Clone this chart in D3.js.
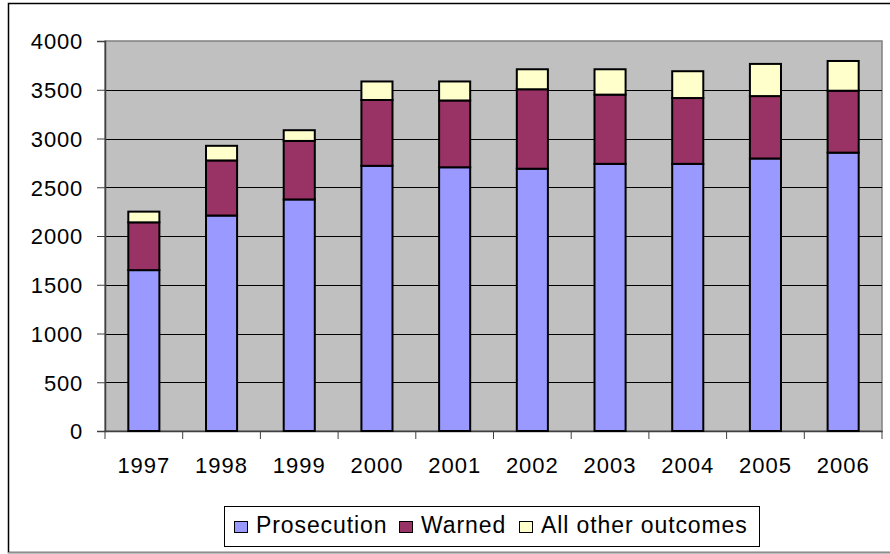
<html lang="en">
<head>
    <meta charset="UTF-8">
    <title>Outcomes 1997-2006</title>
    <style>
        body { margin: 0; background: #ffffff; }
        text { font-family: Arial, "Liberation Sans", sans-serif; fill: #000; }
    </style>
</head>
<body>
    <script src="https://d3js.org/d3.v7.min.js"></script>
    <div id="my_dataviz"></div>
    <script>
        // Data
        var years = ["1997", "1998", "1999", "2000", "2001", "2002", "2003", "2004", "2005", "2006"]
        var prosecution = [1650, 2210, 2375, 2720, 2705, 2690, 2740, 2740, 2795, 2855]
        var warned = [490, 565, 600, 675, 685, 815, 710, 675, 640, 635]
        var otherOutcomes = [110, 150, 110, 190, 195, 205, 260, 275, 330, 305]
        var seriesNames = ["Prosecution", "Warned", "All other outcomes"]
        var yTicks = [0, 500, 1000, 1500, 2000, 2500, 3000, 3500, 4000]

        var width = 890
        var height = 554
        var plot = { left: 105, right: 882, top: 41, bottom: 431 }
        var colors = ["#9999ff", "#993366", "#ffffcc"]

        var svg = d3.select("#my_dataviz")
            .append("svg")
            .attr("width", width)
            .attr("height", height)

        // outer chart border
        svg.append("rect")
            .attr("x", 8.5).attr("y", 3.5)
            .attr("width", 890).attr("height", 549)
            .attr("fill", "none")
            .attr("stroke", "#000")
            .attr("stroke-width", 1.5)
        svg.append("line")
            .attr("x1", 8).attr("x2", 890).attr("y1", 553).attr("y2", 553)
            .attr("stroke", "#bdbdbd").attr("stroke-width", 1.5)

        var x = d3.scaleBand()
            .domain(years)
            .range([plot.left, plot.right])
            .paddingInner(0.6)
            .paddingOuter(0.3)

        var xEdges = d3.scaleBand()
            .domain(years)
            .range([plot.left, plot.right])

        var y = d3.scaleLinear()
            .domain([0, 4000])
            .range([plot.bottom, plot.top])

        // plot background
        svg.append("rect")
            .attr("x", plot.left).attr("y", plot.top)
            .attr("width", plot.right - plot.left)
            .attr("height", plot.bottom - plot.top)
            .attr("fill", "#c0c0c0")
            .attr("stroke", "#808080")
            .attr("stroke-width", 1.5)

        // gridlines
        svg.append("g")
            .selectAll("line")
            .data(yTicks.filter(function (d) { return d > 0 && d < 4000 }))
            .enter()
            .append("line")
            .attr("x1", plot.left).attr("x2", plot.right)
            .attr("y1", function (d) { return Math.round(y(d)) + 0.5 })
            .attr("y2", function (d) { return Math.round(y(d)) + 0.5 })
            .attr("stroke", "#000")
            .attr("stroke-width", 1)

        // y axis
        var yAxis = svg.append("g")
            .attr("transform", "translate(" + plot.left + ",0)")
            .call(d3.axisLeft(y).tickValues(yTicks).tickFormat(d3.format("d")).tickSize(8).tickPadding(14))
        yAxis.select(".domain").attr("stroke", "#404040").attr("stroke-width", 1.5)
        yAxis.selectAll(".tick line").attr("stroke", "#404040")
        yAxis.selectAll("text")
            .style("font-size", "22px")
            .style("letter-spacing", "0.8px")
            .style("font-family", "Arial, 'Liberation Sans', sans-serif")
            .attr("dy", "0.36em")

        // x axis (ticks at category edges)
        var xAxis = svg.append("g")
            .attr("transform", "translate(0," + plot.bottom + ")")
            .call(d3.axisBottom(x).tickSize(0).tickPadding(26))
        xAxis.select(".domain").attr("stroke", "#404040").attr("stroke-width", 1.5)
        xAxis.selectAll("text")
            .style("font-size", "22px")
            .style("letter-spacing", "1px")
            .style("font-family", "Arial, 'Liberation Sans', sans-serif")
        xAxis.selectAll("line.edge")
            .data(years.concat(["end"]))
            .enter()
            .append("line")
            .attr("class", "edge")
            .attr("x1", function (d, i) { return i < years.length ? xEdges(d) : plot.right })
            .attr("x2", function (d, i) { return i < years.length ? xEdges(d) : plot.right })
            .attr("y1", 0).attr("y2", 8)
            .attr("stroke", "#404040")

        // stacked bars
        var rows = years.map(function (yr, i) {
            return { year: yr, Prosecution: prosecution[i], Warned: warned[i], "All other outcomes": otherOutcomes[i] }
        })
        var stacked = d3.stack().keys(seriesNames)(rows)

        svg.append("g")
            .selectAll("g")
            .data(stacked)
            .enter()
            .append("g")
            .attr("fill", function (d, i) { return colors[i] })
            .selectAll("rect")
            .data(function (d) { return d })
            .enter()
            .append("rect")
            .attr("x", function (d) { return x(d.data.year) })
            .attr("y", function (d) { return y(d[1]) })
            .attr("width", x.bandwidth())
            .attr("height", function (d) { return y(d[0]) - y(d[1]) })
            .attr("stroke", "#000")
            .attr("stroke-width", 2)

        // legend
        var legend = svg.append("g")
        legend.append("rect")
            .attr("x", 224.5).attr("y", 506.5)
            .attr("width", 535).attr("height", 40)
            .attr("fill", "#fff")
            .attr("stroke", "#000")
            .attr("stroke-width", 1)

        var legendX = [234, 399, 519]
        legend.selectAll(".sw")
            .data(seriesNames)
            .enter()
            .append("rect")
            .attr("class", "sw")
            .attr("x", function (d, i) { return legendX[i] + 0.5 })
            .attr("y", 521.5)
            .attr("width", 13).attr("height", 11)
            .attr("fill", function (d, i) { return colors[i] })
            .attr("stroke", "#000")
            .attr("stroke-width", 1)

        legend.selectAll(".lt")
            .data(seriesNames)
            .enter()
            .append("text")
            .attr("class", "lt")
            .attr("x", function (d, i) { return legendX[i] + 22 })
            .attr("y", 533)
            .style("font-size", "23px")
            .style("letter-spacing", "0.9px")
            .text(function (d) { return d })
    </script>
</body>
</html>
